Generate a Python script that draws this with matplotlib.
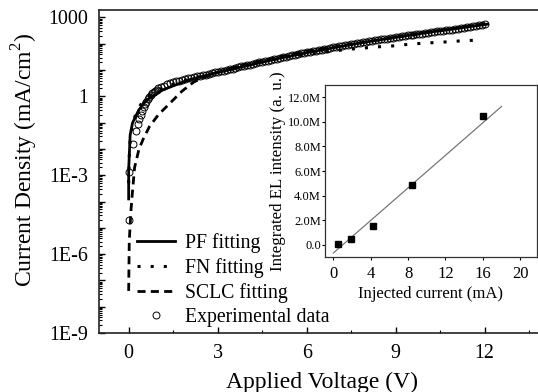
import numpy as np
import matplotlib
matplotlib.use('Agg')
import matplotlib.pyplot as plt
from matplotlib.ticker import LogLocator, NullFormatter, MultipleLocator

plt.rcParams['font.family'] = ['Liberation Serif', 'DejaVu Serif']
plt.rcParams['mathtext.fontset'] = 'custom'
plt.rcParams['mathtext.rm'] = 'Liberation Serif'

# experimental J-V data, log10 of mA/cm2
# low-voltage part read point by point, then the 0.1 V sweep from 1 V to 12 V
knee_v = [0.0, 0.0, 0.13, 0.24, 0.3, 0.35, 0.4, 0.45, 0.5, 0.55, 0.6, 0.65,
          0.7, 0.75, 0.8, 0.85, 0.9, 0.95]
knee_logj = [-4.7, -2.87, -1.81, -1.32, -1.05, -0.86, -0.7, -0.55, -0.42,
             -0.3, -0.2, -0.1, -0.02, 0.05, 0.12, 0.17, 0.22, 0.26]
sweep_v = np.round(np.arange(1.0, 12.05, 0.1), 1)
sweep_logj = [0.30, 0.36, 0.41, 0.46, 0.50, 0.54, 0.57, 0.60, 0.63, 0.66,
              0.68, 0.71, 0.73, 0.76, 0.78, 0.81, 0.83, 0.86, 0.88, 0.91,
              0.93, 0.96, 0.98, 1.01, 1.04, 1.06, 1.09, 1.11, 1.14, 1.16,
              1.19, 1.21, 1.24, 1.26, 1.29, 1.31, 1.34, 1.36, 1.39, 1.41,
              1.44, 1.46, 1.49, 1.51, 1.54, 1.56, 1.59, 1.61, 1.64, 1.66,
              1.68, 1.70, 1.72, 1.74, 1.76, 1.78, 1.80, 1.82, 1.84, 1.86,
              1.88, 1.90, 1.92, 1.94, 1.96, 1.98, 2.00, 2.02, 2.04, 2.06,
              2.08, 2.09, 2.11, 2.13, 2.15, 2.17, 2.19, 2.20, 2.22, 2.23,
              2.25, 2.27, 2.29, 2.30, 2.32, 2.33, 2.35, 2.36, 2.38, 2.39,
              2.41, 2.42, 2.44, 2.45, 2.47, 2.48, 2.50, 2.51, 2.53, 2.54,
              2.56, 2.57, 2.59, 2.60, 2.62, 2.64, 2.66, 2.68, 2.70, 2.73,
              2.76]

# fits
pf_v = [0.0, 0.0, 0.05, 0.13, 0.34, 0.6, 1.14, 2.0, 2.93, 4.0, 5.0, 6.0,
        7.0, 8.0, 9.0, 10.0, 11.0, 12.1]
pf_logj = [-3.9, -2.8, -1.47, -1.01, -0.52, -0.14, 0.24, 0.62, 0.89, 1.17,
           1.43, 1.66, 1.87, 2.07, 2.25, 2.42, 2.58, 2.75]

fn_v = [0.0, 0.02, 0.06, 0.15, 0.3, 0.5, 0.8, 1.2, 1.8, 2.5, 3.5, 4.5, 5.5,
        6.5, 7.5, 8.48, 8.92, 9.43, 9.9, 10.37, 10.84, 11.3, 11.8]
fn_logj = [-3.3, -2.3, -1.5, -0.95, -0.5, -0.15, 0.12, 0.35, 0.58, 0.78,
           1.06, 1.32, 1.53, 1.68, 1.80, 1.89, 1.92, 1.98, 2.02, 2.05, 2.08,
           2.12, 2.14]

sclc_v = [0.0, 0.02, 0.08, 0.13, 0.2, 0.35, 0.5, 0.7, 1.0, 1.4, 1.8, 2.2,
          2.8, 3.5, 4.5, 6.0, 8.0, 10.0, 12.0]
sclc_logj = [-7.4, -5.5, -4.3, -3.6, -2.7, -2.0, -1.6, -1.15, -0.7, -0.25,
             0.2, 0.55, 0.85, 1.08, 1.36, 1.72, 2.07, 2.42, 2.75]

ytick_vals = [1e-9, 1e-8, 1e-7, 1e-6, 1e-5, 1e-4, 1e-3, 1e-2, 1e-1, 1, 10, 100, 1000]
ytick_labels = ['1E-9', '', '', '1E-6', '', '', '1E-3', '', '', '1', '', '', '1000']
xtick_vals = [0, 3, 6, 9, 12]

# inset: EL intensity vs current
inj_current = [0.5, 1.9, 4.2, 8.38, 16.05]
el_intensity = [0.05e6, 0.46e6, 1.54e6, 4.85e6, 10.44e6]
fit_x = [0.0, 18.0]
fit_y = [-0.67e6, 11.25e6]
inset_yticks = [0, 2e6, 4e6, 6e6, 8e6, 10e6, 12e6]
inset_ylabels = ['0.0', '2.0M', '4.0M', '6.0M', '8.0M', '10.0M', '12.0M']
inset_xticks = [0, 4, 8, 12, 16, 20]

exp_v = np.concatenate([knee_v, sweep_v])
exp_j = 10**np.concatenate([knee_logj, sweep_logj])

fig = plt.figure(figsize=(5.38, 3.92), dpi=100)
ax = fig.add_axes([99/538, 59/392, 445/538, 323/392])

h_exp, = ax.plot(exp_v, exp_j, 'o', mfc='none', mec='black', mew=0.7,
                 ms=5, zorder=2)
l_pf, = ax.plot(pf_v, 10**np.array(pf_logj), '-', color='black', lw=2.0, zorder=3)
l_fn, = ax.plot(fn_v, 10**np.array(fn_logj), color='black', lw=2.2,
                linestyle=(0, (1, 3.3)), zorder=3)
l_sc, = ax.plot(sclc_v, 10**np.array(sclc_logj), color='black', lw=2.0,
                linestyle=(0, (2.9, 1.9)), zorder=3)

ax.set_yscale('log')
ax.set_ylim(1e-9, 1928)
ax.set_xlim(-1, 14)
ax.set_yticks(ytick_vals)
ax.set_yticklabels(ytick_labels)
ax.yaxis.set_minor_locator(LogLocator(base=10, subs=np.arange(2, 10), numticks=30))
ax.yaxis.set_minor_formatter(NullFormatter())
ax.set_xticks(xtick_vals)
ax.xaxis.set_minor_locator(MultipleLocator(1.5))
ax.tick_params(which='both', direction='in', labelsize=14.4)
ax.tick_params(axis='y', pad=8)
ax.tick_params(axis='x', pad=8)
ax.tick_params(which='major', length=4, width=1.0)
ax.tick_params(which='minor', length=2.2, width=0.8)
for s in ax.spines.values():
    s.set_linewidth(1.2)
    s.set_color('#222222')

ax.set_xlabel('Applied Voltage (V)', fontsize=17, labelpad=6)
ax.set_ylabel('Current Density (mA/cm$^2$)', fontsize=17)
ax.yaxis.set_label_coords(-0.133, 0.535)

ax.legend([l_pf, l_fn, l_sc, h_exp],
          ['PF fitting', 'FN fitting', 'SCLC fitting', 'Experimental data'],
          loc='upper left', bbox_to_anchor=(0.0854, 0.31), frameon=False,
          fontsize=14.2, borderpad=0, borderaxespad=0, handlelength=1.95,
          handletextpad=0.5, labelspacing=0.26)

# inset
ins = fig.add_axes([325/538, 135/392, 212/538, 172/392])
ins.plot(fit_x, fit_y, color='#777777', lw=0.9)
ins.plot(inj_current, el_intensity, 's', color='black', ms=4)
ins.set_xlim(-0.9, 21.8)
ins.set_ylim(-1e6, 13e6)
ins.set_xticks(inset_xticks)
ins.set_yticks(inset_yticks)
ins.set_yticklabels(inset_ylabels)
ins.tick_params(axis='x', direction='out', length=2.5, labelsize=12, pad=4)
ins.tick_params(axis='y', direction='out', length=2.5, labelsize=9, pad=0.5)
for s in ins.spines.values():
    s.set_linewidth(0.9)
    s.set_color('#333333')
ins.set_xlabel('Injected current (mA)', fontsize=12, labelpad=3)
ins.set_ylabel('Integrated EL intensity (a. u.)', fontsize=12.2, labelpad=1)

fig.savefig('out.png', dpi=100)
